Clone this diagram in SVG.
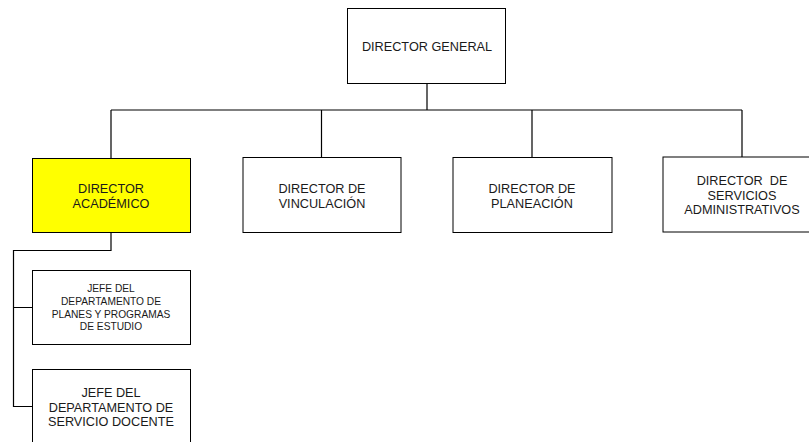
<svg xmlns="http://www.w3.org/2000/svg" width="809" height="442" viewBox="0 0 809 442">
<style>
.box{fill:#fff;stroke:#000;stroke-width:1}
.yel{fill:#ffff00}
.t{font-family:"Liberation Sans",Arial,sans-serif;font-size:12.7px;fill:#1a1a1a;text-anchor:middle}
.s{font-size:10.2px}
.c{fill:none;stroke:#000;stroke-width:1.2}
</style>
<rect width="809" height="442" fill="#fff"/>
<g id="connectors">
<path class="c" d="M427 83.5V110M111 110H742M111 110V158M321.5 110V157.5M532 110V157.5M742 110V157.5"/>
<path class="c" d="M111 232.5V250.5H13.5V406.5H32M13.5 307.5H32"/>
</g>
<g id="director-general">
<rect class="box" x="347.5" y="8.5" width="158" height="75"/>
<text class="t" x="427" y="51">DIRECTOR GENERAL</text>
</g>
<g id="director-academico">
<rect class="box yel" x="32.5" y="158.5" width="158" height="74"/>
<text class="t" x="111" y="193">DIRECTOR</text>
<text class="t" x="111" y="207.5">ACADÉMICO</text>
</g>
<g id="director-vinculacion">
<rect class="box" x="243" y="157.5" width="158" height="75"/>
<text class="t" x="322" y="193.3">DIRECTOR DE</text>
<text class="t" x="322" y="207.5">VINCULACIÓN</text>
</g>
<g id="director-planeacion">
<rect class="box" x="453" y="157.5" width="159" height="75"/>
<text class="t" x="532" y="193.3">DIRECTOR DE</text>
<text class="t" x="532" y="207.5">PLANEACIÓN</text>
</g>
<g id="director-servicios">
<rect class="box" x="663" y="157" width="158" height="75"/>
<text class="t" x="742" y="185">DIRECTOR&#160; DE</text>
<text class="t" x="742" y="199.5">SERVICIOS</text>
<text class="t" x="742" y="214.3">ADMINISTRATIVOS</text>
</g>
<g id="jefe-planes">
<rect class="box" x="32.5" y="270.5" width="158" height="74"/>
<text class="t s" x="111" y="291.5">JEFE DEL</text>
<text class="t s" x="111" y="305">DEPARTAMENTO DE</text>
<text class="t s" x="111" y="317.5">PLANES Y PROGRAMAS</text>
<text class="t s" x="111" y="329.5">DE ESTUDIO</text>
</g>
<g id="jefe-servicio">
<rect class="box" x="32.5" y="369.5" width="158" height="75"/>
<text class="t" x="111" y="396.7">JEFE DEL</text>
<text class="t" x="111" y="411.5">DEPARTAMENTO DE</text>
<text class="t" x="111" y="425.7">SERVICIO DOCENTE</text>
</g>
</svg>
